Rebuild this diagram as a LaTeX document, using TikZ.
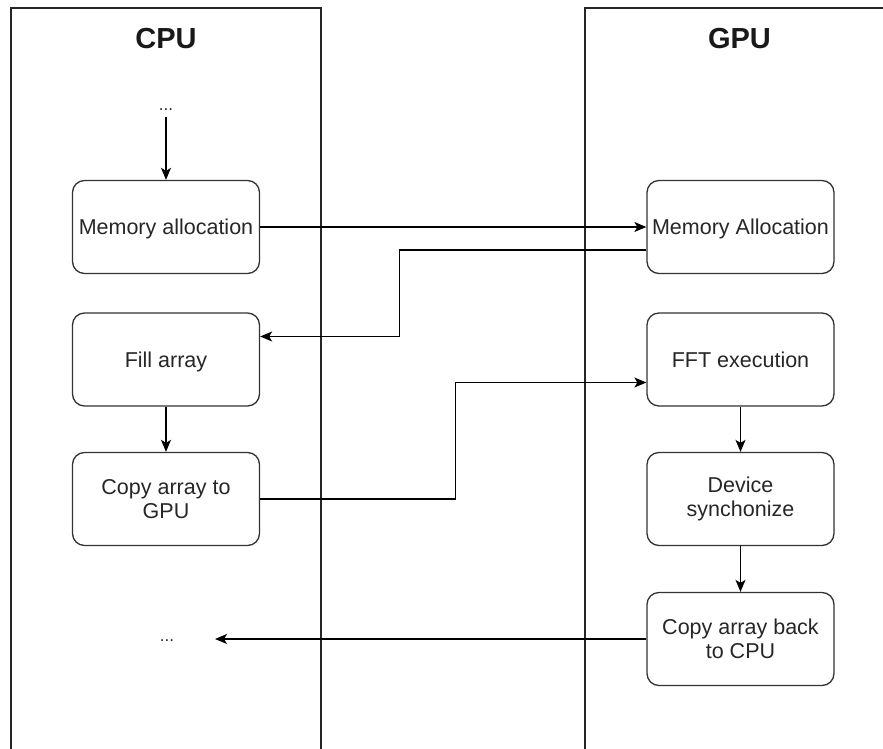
\documentclass[tikz,border=0pt]{standalone}
\usepackage{fontspec}
\setmainfont{Liberation Sans}
\usetikzlibrary{arrows.meta}
\begin{document}
\begin{tikzpicture}[x=1pt,y=-1pt,
  lane/.style={line width=1.3pt, draw=black!85},
  box/.style={draw=black!80, line width=1.3pt, rounded corners=12pt, minimum width=187pt, minimum height=93pt, align=center, inner sep=1pt, font=\fontsize{21.5}{24.5}\selectfont, text=black!85},
  oneline/.style={text depth=0pt},
  title/.style={font=\fontsize{29}{32}\selectfont\bfseries, text=black!90},
  dots/.style={inner sep=0pt, font=\fontsize{17}{20}\selectfont, text=black!85},
  arr/.style={line width=1.3pt, draw=black, -{Stealth[length=12pt,width=10pt,inset=3pt]}}
]
\useasboundingbox (0,0) rectangle (883,749);
\begin{scope}
\clip (0,0) rectangle (883,749);
\draw[lane] (11,760) -- (11,8) -- (321,8) -- (321,760);
\draw[lane] (585,760) -- (585,8) -- (900,8);
\end{scope}

\node[title] (cpu) at (166,39) {CPU};
\node[title] (gpu) at (739.5,39) {GPU};

\node[dots] (dtop) at (166,110) {...};
\node[box,oneline] (cma) at (166,227) {Memory allocation};
\node[box,oneline] (fill) at (166,359.5) {Fill array};
\node[box] (copy) at (166,499) {Copy array to\\GPU};
\node[dots] (dbot) at (167,641) {...};
\coordinate (dend) at (215,639);

\node[box,oneline] (gma) at (740.5,227) {Memory Allocation};
\node[box,oneline] (fft) at (740.5,359.5) {FFT execution};
\node[box] (sync) at (740.5,499) {Device\\synchonize};
\node[box] (back) at (740.5,639) {Copy array back\\to CPU};

\draw[arr, shorten <=6pt] (dtop.south) -- (cma.north);
\draw[arr] (cma.east) -- (gma.west);
\draw[arr] ([yshift=-23pt]gma.west) -- ++(-247,0) |- ([yshift=23pt]fill.east);
\draw[arr] (fill.south) -- (copy.north);
\draw[arr] (copy.east) -- ++(195,0) |- ([yshift=-23pt]fft.west);
\draw[arr] (fft.south) -- (sync.north);
\draw[arr] (sync.south) -- (back.north);
\draw[arr] (back.west) -- (dend);
\end{tikzpicture}
\end{document}
